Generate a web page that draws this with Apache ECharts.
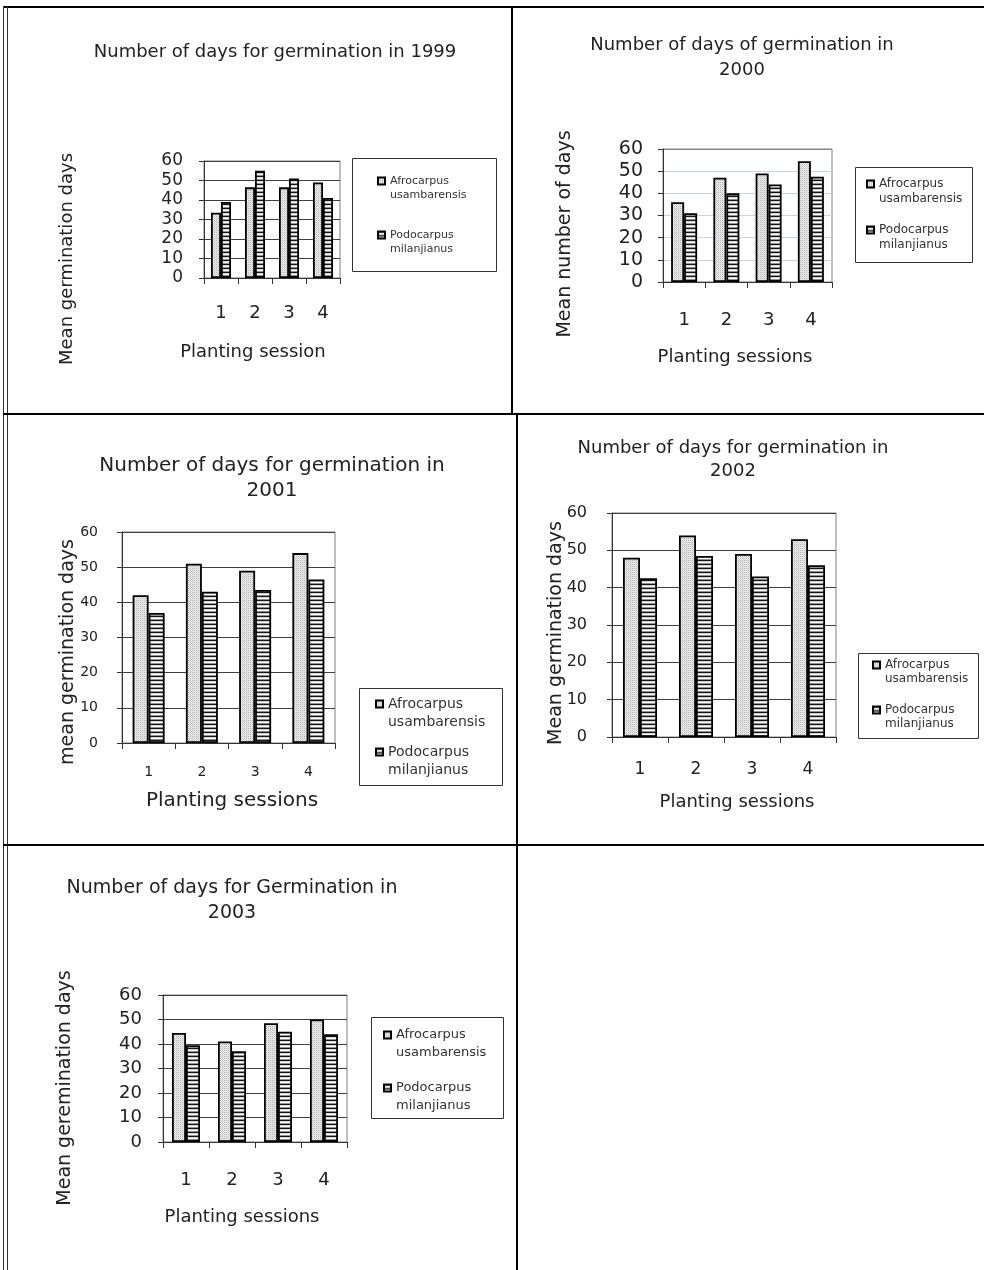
<!DOCTYPE html>
<html>
<head>
<meta charset="utf-8">
<title>Number of days for germination, 1999–2003</title>
<script src="https://cdn.jsdelivr.net/npm/echarts@6/dist/echarts.min.js"></script>
<style>
  html, body { margin: 0; padding: 0; background: #ffffff; }
  #chart { width: 984px; height: 1270px; }
</style>
</head>
<body>
<div id="chart"></div>
<script>
// ---- data ---------------------------------------------------------------
const sessions = ['1', '2', '3', '4'];
const speciesNames = ['Afrocarpus usambarensis', 'Podocarpus milanjianus'];

const afro1999 = [33.5, 46.5, 46.5, 49];
const podo1999 = [39, 55, 51, 41];

const afro2000 = [36, 47, 49, 54.5];
const podo2000 = [31, 40, 44, 47.5];

const afro2001 = [42, 51, 49, 54];
const podo2001 = [37, 43, 43.5, 46.5];

const afro2002 = [48, 54, 49, 53];
const podo2002 = [42.5, 48.5, 43, 46];

const afro2003 = [44.5, 41, 48.5, 50];
const podo2003 = [39.5, 37, 45, 44];

const titles = [
  'Number of days for germination in 1999',
  'Number of days of germination in\n2000',
  'Number of days for germination in\n2001',
  'Number of days for germination in\n2002',
  'Number of days for Germination in\n2003'
];
const xNames = ['Planting session', 'Planting sessions', 'Planting sessions', 'Planting sessions', 'Planting sessions'];
const yNames = ['Mean germination days', 'Mean number of days', 'mean germination days', 'Mean germination days', 'Mean geremination days'];

const yMin = 0, yMax = 60, yStep = 10;

// ---- fill patterns ------------------------------------------------------
function patternFromRows(rows) {
  const c = document.createElement('canvas');
  c.width = rows[0].length;
  c.height = rows.length;
  const ctx = c.getContext('2d');
  rows.forEach((row, y) => row.forEach((col, x) => { ctx.fillStyle = col; ctx.fillRect(x, y, 1, 1); }));
  return { image: c, repeat: 'repeat' };
}
// stippled light grey
const afroFill = patternFromRows([
  ['#b4b4b4', '#eeeeee'],
  ['#eeeeee', '#d6d6d6']
]);
// horizontal stripes
const podoFill = patternFromRows([
  ['#151515'],
  ['#d4d4d4'],
  ['#ffffff'],
  ['#8f8f8f']
]);

// ---- layout of the five panels -----------------------------------------
const FONT = 'DejaVu Sans';
const INK = '#222222';
const GRID_DARK = '#404040';
const GRID_BLUE = '#c4d4ea';

const panels = [
  { afro: afro1999, podo: podo1999,
    grid: { left: 204, top: 161, width: 136, height: 117 },
    title: { x: 275, top: 41, size: 18, lh: 22 },
    tick: { size: 17, margin: 21 }, cat: { size: 18, margin: 26 },
    xName: { size: 18, gap: 65, pad: [0, 38, 0, 0] },
    yName: { size: 18, gap: 128, pad: [0, 79, 0, 0] },
    barWidth: 10, split: GRID_DARK,
    legend: { box: [352, 158, 144, 113], x: 377, y1: 181, y2: 235, size: 11, lh: 14 } },
  { afro: afro2000, podo: podo2000,
    grid: { left: 663, top: 149, width: 169, height: 133 },
    title: { x: 742, top: 33, size: 18, lh: 25 },
    tick: { size: 19, margin: 20 }, cat: { size: 18, margin: 29 },
    xName: { size: 18, gap: 66, pad: [0, 25, 0, 0] },
    yName: { size: 19, gap: 88, pad: [0, 37, 0, 0] },
    barWidth: 13, split: ['#555555', GRID_BLUE, GRID_BLUE, GRID_BLUE, GRID_BLUE, GRID_BLUE, '#888888'],
    legend: { box: [855, 167, 117, 95], x: 866, y1: 184, y2: 230, size: 12, lh: 15 } },
  { afro: afro2001, podo: podo2001,
    grid: { left: 122, top: 532, width: 213, height: 211 },
    title: { x: 272, top: 453, size: 20, lh: 25 },
    tick: { size: 14, margin: 24 }, cat: { size: 14, margin: 22 },
    xName: { size: 20, gap: 48, pad: [0, 0, 0, 7] },
    yName: { size: 19, gap: 44, pad: [0, 29, 0, 0] },
    barWidth: 16, split: GRID_DARK,
    legend: { box: [359, 688, 143, 97], x: 375, y1: 704, y2: 752, size: 14, lh: 18 } },
  { afro: afro2002, podo: podo2002,
    grid: { left: 612, top: 513, width: 224, height: 224 },
    title: { x: 733, top: 437, size: 18, lh: 23 },
    tick: { size: 16, margin: 25 }, cat: { size: 17, margin: 24 },
    xName: { size: 18, gap: 56, pad: [0, 0, 0, 26] },
    yName: { size: 19, gap: 46, pad: [0, 16, 0, 0] },
    barWidth: 17, split: GRID_DARK,
    legend: { box: [858, 653, 120, 85], x: 872, y1: 665, y2: 710, size: 12, lh: 14 } },
  { afro: afro2003, podo: podo2003,
    grid: { left: 163, top: 995, width: 184, height: 147 },
    title: { x: 232, top: 876, size: 19, lh: 25 },
    tick: { size: 18, margin: 21 }, cat: { size: 18, margin: 29 },
    xName: { size: 18, gap: 66, pad: [0, 26, 0, 0] },
    yName: { size: 19, gap: 88, pad: [0, 39, 0, 0] },
    barWidth: 14, split: GRID_DARK,
    legend: { box: [371, 1017, 132, 101], x: 383, y1: 1035, y2: 1088, size: 13, lh: 18 } }
];

// ---- option --------------------------------------------------------------
const option = {
  backgroundColor: '#ffffff',
  animation: false,
  title: [], grid: [], xAxis: [], yAxis: [], series: [], legend: [], graphic: []
};

panels.forEach((p, i) => {
  option.title.push({
    text: titles[i], left: p.title.x, top: p.title.top, padding: 0,
    textAlign: 'center', textVerticalAlign: 'top',
    textStyle: { fontFamily: FONT, fontSize: p.title.size, fontWeight: 'normal', color: INK, lineHeight: p.title.lh }
  });

  option.grid.push(Object.assign({
    show: true, borderColor: '#808080', borderWidth: 1, backgroundColor: 'transparent',
    containLabel: false, outerBoundsMode: 'none'
  }, p.grid));

  option.xAxis.push({
    gridIndex: i, type: 'category', data: sessions,
    axisLine: { show: true, lineStyle: { color: '#333333', width: 1 } },
    axisTick: { show: true, length: 6, lineStyle: { color: '#333333' } },
    axisLabel: { fontFamily: FONT, fontSize: p.cat.size, color: INK, margin: p.cat.margin },
    splitLine: { show: false },
    name: xNames[i], nameLocation: 'middle', nameGap: p.xName.gap, nameMoveOverlap: false,
    nameTextStyle: { fontFamily: FONT, fontSize: p.xName.size, color: INK, padding: p.xName.pad }
  });

  option.yAxis.push({
    gridIndex: i, type: 'value', min: yMin, max: yMax, interval: yStep,
    axisLine: { show: true, lineStyle: { color: '#333333', width: 1 } },
    axisTick: { show: true, length: 5, lineStyle: { color: '#333333' } },
    axisLabel: { fontFamily: FONT, fontSize: p.tick.size, color: INK, margin: p.tick.margin },
    splitLine: { show: true, lineStyle: { color: p.split, width: 1 } },
    name: yNames[i], nameLocation: 'middle', nameGap: p.yName.gap, nameMoveOverlap: false,
    nameTextStyle: { fontFamily: FONT, fontSize: p.yName.size, color: INK, padding: p.yName.pad }
  });

  [[p.afro, afroFill], [p.podo, podoFill]].forEach(([vals, fill], k) => {
    option.series.push({
      type: 'bar', name: speciesNames[k], xAxisIndex: i, yAxisIndex: i,
      data: vals, barWidth: p.barWidth, barGap: '0%',
      itemStyle: { color: fill, borderColor: '#000000', borderWidth: 1.8 },
      emphasis: { disabled: true }, silent: true
    });
  });

  // legend frame, then one legend entry per species; the leading blank line
  // puts the genus on the marker's row and the epithet on the row below
  const L = p.legend;
  option.graphic.push({
    type: 'rect', shape: { x: L.box[0] + 0.5, y: L.box[1] + 0.5, width: L.box[2], height: L.box[3] },
    style: { fill: 'none', stroke: '#333333', lineWidth: 1 }, z: 3
  });
  [L.y1, L.y2].forEach((yc, k) => {
    option.legend.push({
      data: [speciesNames[k]], orient: 'vertical', left: L.x, top: yc - 1.5 * L.lh,
      padding: 0, itemWidth: 7, itemHeight: 7, itemGap: 0, icon: 'rect', selectedMode: false,
      formatter: n => '\n' + n.replace(' ', '\n'),
      textStyle: { fontFamily: FONT, fontSize: L.size, lineHeight: L.lh, color: '#333333' }
    });
  });
});

// table rules separating the panels
const rule = (x1, y1, x2, y2, w, c) => ({
  type: 'line', shape: { x1, y1, x2, y2 }, style: { stroke: c || '#000000', lineWidth: w }, z: 5
});
option.graphic.push(
  rule(3, 7, 984, 7, 2),
  rule(3.5, 6, 3.5, 1270, 1, '#333333'),
  rule(7.5, 6, 7.5, 1270, 1, '#333333'),
  rule(512, 7, 512, 414, 2),
  rule(3, 414, 984, 414, 2),
  rule(517, 414, 517, 845, 2),
  rule(3, 845, 984, 845, 2),
  rule(517, 845, 517, 1270, 2)
);

const chart = echarts.init(document.getElementById('chart'), null, { renderer: 'canvas' });
chart.setOption(option);
</script>
</body>
</html>
